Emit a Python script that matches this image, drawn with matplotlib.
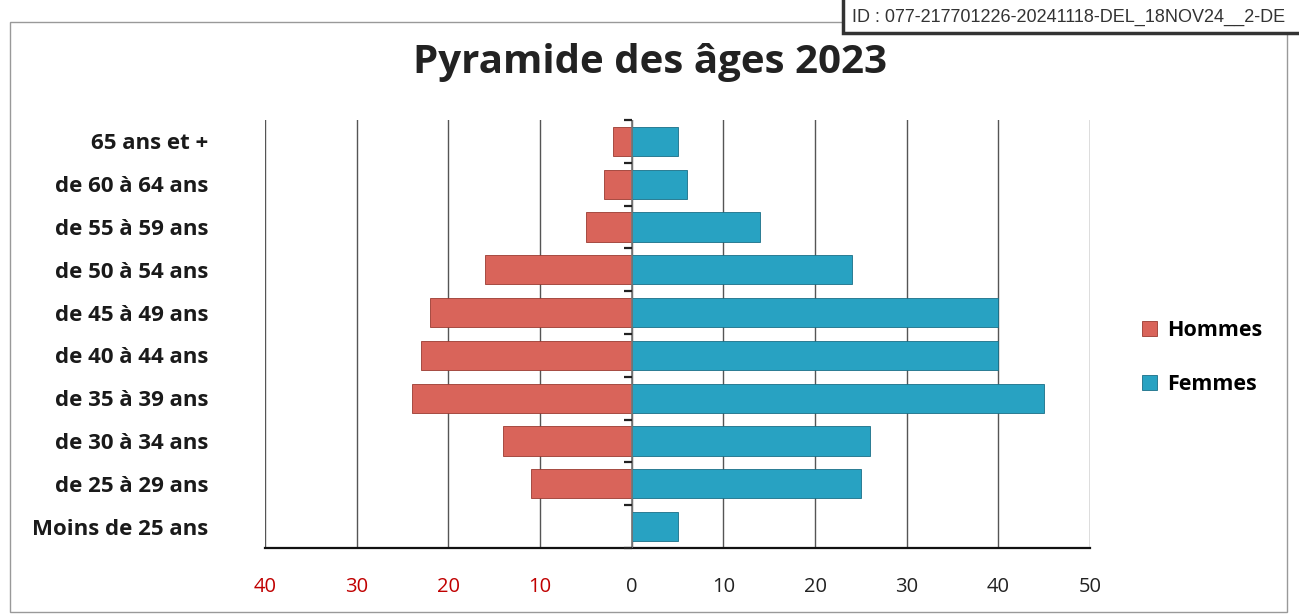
import matplotlib
matplotlib.use("Agg")
import matplotlib.pyplot as plt
from matplotlib.patches import Rectangle
import numpy as np

categories = ["Moins de 25 ans", "de 25 à 29 ans", "de 30 à 34 ans", "de 35 à 39 ans",
              "de 40 à 44 ans", "de 45 à 49 ans", "de 50 à 54 ans", "de 55 à 59 ans",
              "de 60 à 64 ans", "65 ans et +"]
hommes = [0, 11, 14, 24, 23, 22, 16, 5, 3, 2]
femmes = [5, 25, 26, 45, 40, 40, 24, 14, 6, 5]
xticks = [-40, -30, -20, -10, 0, 10, 20, 30, 40, 50]
title = "Pyramide des âges 2023"
stamp = "ID : 077-217701226-20241118-DEL_18NOV24__2-DE"

c_h = "#D9645A"
c_f = "#28A2C2"
font = ["Open Sans", "DejaVu Sans"]
plt.rcParams["font.family"] = font

fig = plt.figure(figsize=(12.99, 6.16), dpi=100)
W, H = 1299, 616
ax = fig.add_axes([265 / W, 1 - 548 / H, (1090 - 265) / W, (548 - 120) / H])

y = np.arange(len(categories))
ax.barh(y, [-v for v in hommes], height=0.68, color=c_h, edgecolor="#9a3a30",
        linewidth=0.6, label="Hommes", zorder=3)
ax.barh(y, femmes, height=0.68, color=c_f, edgecolor="#1a6f87",
        linewidth=0.6, label="Femmes", zorder=3)

ax.set_xlim(-40, 50)
ax.set_ylim(-0.5, len(categories) - 0.5)
ax.set_xticks(xticks)
ax.set_xticklabels([str(abs(t)) for t in xticks], fontsize=14.5)
for lab, t in zip(ax.get_xticklabels(), xticks):
    lab.set_color("#C00000" if t < 0 else "#222222")
ax.tick_params(axis="x", length=0, pad=21)
ax.set_yticks(y)
ax.set_yticklabels(categories, fontsize=16, fontweight="bold", color="#1a1a1a")
ax.tick_params(axis="y", length=0, pad=41)

ax.grid(axis="x", color="#555555", linewidth=1.0, zorder=0)
for s in ["top", "right", "left"]:
    ax.spines[s].set_visible(False)
ax.spines["bottom"].set_color("#111111")
ax.spines["bottom"].set_linewidth(1.6)

# central axis at 0 with tick marks between categories
ax.axvline(0, color="#777777", linewidth=1.2, zorder=4)
ax.plot(np.zeros(len(categories) + 1), np.arange(len(categories) + 1) - 0.5,
        ls="", marker=0, ms=6, mew=1.6, color="#222222", zorder=4, clip_on=False)

ax.legend(loc="center left", bbox_to_anchor=(1.040, 0.445), frameon=False,
          prop={"family": font, "weight": "bold", "size": 15.5},
          handlelength=0.7, handleheight=0.7, labelspacing=1.55, handletextpad=0.45)

fig.text(650 / W, 1 - 62 / H, title, ha="center", va="center", fontsize=29,
         fontweight="bold", color="#222222")

# scan frame
fig.patches.append(Rectangle((10 / W, 1 - 612 / H), (1287 - 10) / W, (612 - 22) / H,
                             transform=fig.transFigure, fill=False,
                             edgecolor="#999999", linewidth=1.0, zorder=0))
# stamp box
fig.patches.append(Rectangle((843 / W, 1 - 33 / H), (W - 843 + 10) / W, 40 / H,
                             transform=fig.transFigure, facecolor="white",
                             edgecolor="#333333", linewidth=2.5, zorder=5))
fig.text(852 / W, 1 - 17 / H, stamp, ha="left", va="center", fontsize=13,
         family=["Liberation Sans Narrow", "Liberation Sans", "DejaVu Sans"],
         color="#333333", zorder=6)

fig.savefig("out.png", dpi=100)
